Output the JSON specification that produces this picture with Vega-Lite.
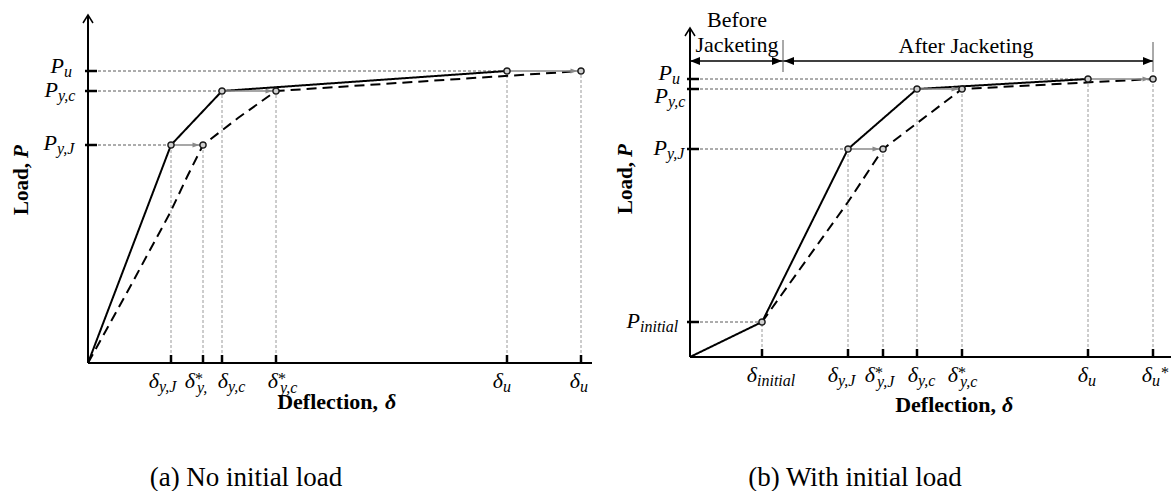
{
  "$schema": "https://vega.github.io/schema/vega-lite/v6.json",
  "background": "white",
  "padding": {"left": 11, "top": 9, "right": 0, "bottom": 0},
  "spacing": 98,
  "bounds": "flush",
  "config": {"view": {"stroke": null}, "font": "Liberation Serif", "text": {"font": "Liberation Serif"}, "axis": {"disable": true}},
  "datasets": {
    "a_curves": [
      {"series": "solid", "i": 0, "x": 0, "y": 0},
      {"series": "solid", "i": 1, "x": 83, "y": 218},
      {"series": "solid", "i": 2, "x": 134, "y": 272},
      {"series": "solid", "i": 3, "x": 419, "y": 292},
      {"series": "dashed", "i": 0, "x": 0, "y": 0},
      {"series": "dashed", "i": 1, "x": 42, "y": 76},
      {"series": "dashed", "i": 2, "x": 82, "y": 150},
      {"series": "dashed", "i": 3, "x": 99, "y": 186},
      {"series": "dashed", "i": 4, "x": 115, "y": 218},
      {"series": "dashed", "i": 5, "x": 150, "y": 245},
      {"series": "dashed", "i": 6, "x": 188, "y": 272},
      {"series": "dashed", "i": 7, "x": 493, "y": 292}
    ],
    "a_points": [
      {"x": 83, "y": 218}, {"x": 134, "y": 272}, {"x": 419, "y": 292},
      {"x": 115, "y": 218}, {"x": 188, "y": 272}, {"x": 493, "y": 292}
    ],
    "a_arrows": [
      {"x": 83, "x2": 115, "y": 218},
      {"x": 134, "x2": 188, "y": 272},
      {"x": 419, "x2": 493, "y": 292}
    ],
    "a_guides": [
      {"dir": "h", "x": 0, "y": 292, "x2": 419, "y2": 292},
      {"dir": "h", "x": 0, "y": 272, "x2": 134, "y2": 272},
      {"dir": "h", "x": 0, "y": 218, "x2": 83, "y2": 218},
      {"dir": "v", "x": 83, "y": 0, "x2": 83, "y2": 218},
      {"dir": "v", "x": 115, "y": 0, "x2": 115, "y2": 218},
      {"dir": "v", "x": 134, "y": 0, "x2": 134, "y2": 272},
      {"dir": "v", "x": 188, "y": 0, "x2": 188, "y2": 272},
      {"dir": "v", "x": 419, "y": 0, "x2": 419, "y2": 292},
      {"dir": "v", "x": 493, "y": 0, "x2": 493, "y2": 292}
    ],
    "a_yticks": [{"y": 292}, {"y": 272}, {"y": 218}],
    "a_xticks": [{"x": 83}, {"x": 115}, {"x": 134}, {"x": 188}, {"x": 419}, {"x": 493}],
    "a_labels": [
      {"x": -24, "y": 290, "sym": "P", "sub": "u", "sup": "", "post": ""},
      {"x": -30, "y": 266, "sym": "P", "sub": "y,c", "sup": "", "post": ""},
      {"x": -31, "y": 213, "sym": "P", "sub": "y,J", "sup": "", "post": ""},
      {"x": 71, "y": -25, "sym": "δ", "sub": "y,J", "sup": "", "post": ""},
      {"x": 107, "y": -25, "sym": "δ", "sub": "y,", "sup": "*", "post": ""},
      {"x": 140, "y": -25, "sym": "δ", "sub": "y,c", "sup": "", "post": ""},
      {"x": 190, "y": -25, "sym": "δ", "sub": "y,c", "sup": "*", "post": ""},
      {"x": 415, "y": -25, "sym": "δ", "sub": "u", "sup": "", "post": ""},
      {"x": 492, "y": -25, "sym": "δ", "sub": "u", "sup": "", "post": ""}
    ],
    "b_curves": [
      {"series": "solid", "i": 0, "x": 0, "y": 0},
      {"series": "solid", "i": 1, "x": 72, "y": 35},
      {"series": "solid", "i": 2, "x": 158, "y": 208},
      {"series": "solid", "i": 3, "x": 227, "y": 268},
      {"series": "solid", "i": 4, "x": 398, "y": 278},
      {"series": "dashed", "i": 0, "x": 72, "y": 35},
      {"series": "dashed", "i": 1, "x": 158, "y": 155},
      {"series": "dashed", "i": 2, "x": 193, "y": 208},
      {"series": "dashed", "i": 3, "x": 272, "y": 268},
      {"series": "dashed", "i": 4, "x": 463, "y": 278}
    ],
    "b_points": [
      {"x": 72, "y": 35}, {"x": 158, "y": 208}, {"x": 227, "y": 268}, {"x": 398, "y": 278},
      {"x": 193, "y": 208}, {"x": 272, "y": 268}, {"x": 463, "y": 278}
    ],
    "b_arrows": [
      {"x": 158, "x2": 193, "y": 208},
      {"x": 227, "x2": 272, "y": 268},
      {"x": 398, "x2": 463, "y": 278}
    ],
    "b_guides": [
      {"dir": "h", "x": 0, "y": 278, "x2": 398, "y2": 278},
      {"dir": "h", "x": 0, "y": 268, "x2": 227, "y2": 268},
      {"dir": "h", "x": 0, "y": 208, "x2": 158, "y2": 208},
      {"dir": "h", "x": 0, "y": 35, "x2": 72, "y2": 35},
      {"dir": "v", "x": 72, "y": 0, "x2": 72, "y2": 35},
      {"dir": "v", "x": 158, "y": 0, "x2": 158, "y2": 208},
      {"dir": "v", "x": 193, "y": 0, "x2": 193, "y2": 208},
      {"dir": "v", "x": 227, "y": 0, "x2": 227, "y2": 268},
      {"dir": "v", "x": 272, "y": 0, "x2": 272, "y2": 268},
      {"dir": "v", "x": 398, "y": 0, "x2": 398, "y2": 278},
      {"dir": "v", "x": 463, "y": 0, "x2": 463, "y2": 278}
    ],
    "b_yticks": [{"y": 278}, {"y": 268}, {"y": 208}, {"y": 35}],
    "b_xticks": [{"x": 72}, {"x": 158}, {"x": 193}, {"x": 227}, {"x": 272}, {"x": 398}, {"x": 463}],
    "b_labels": [
      {"x": -18, "y": 277, "sym": "P", "sub": "u", "sup": "", "post": ""},
      {"x": -22, "y": 254, "sym": "P", "sub": "y,c", "sup": "", "post": ""},
      {"x": -23, "y": 202, "sym": "P", "sub": "y,J", "sup": "", "post": ""},
      {"x": -50, "y": 29, "sym": "P", "sub": "initial", "sup": "", "post": ""},
      {"x": 67, "y": -25, "sym": "δ", "sub": "initial", "sup": "", "post": ""},
      {"x": 148, "y": -25, "sym": "δ", "sub": "y,J", "sup": "", "post": ""},
      {"x": 185, "y": -25, "sym": "δ", "sub": "y,J", "sup": "*", "post": ""},
      {"x": 228, "y": -25, "sym": "δ", "sub": "y,c", "sup": "", "post": ""},
      {"x": 268, "y": -25, "sym": "δ", "sub": "y,c", "sup": "*", "post": ""},
      {"x": 398, "y": -25, "sym": "δ", "sub": "u", "sup": "", "post": ""},
      {"x": 462, "y": -25, "sym": "δ", "sub": "u", "sup": "", "post": "*"}
    ],
    "b_dimheads": [
      {"x": 0, "dir": "l"}, {"x": 92, "dir": "r"}, {"x": 94, "dir": "l"}, {"x": 463, "dir": "r"}
    ]
  },
  "hconcat": [
    {
      "width": 504,
      "height": 348,
      "layer": [
        {
          "data": {"name": "a_guides"},
          "mark": {"type": "rule", "strokeWidth": 1, "strokeDash": [3, 2]},
          "encoding": {
            "x": {"field": "x", "type": "quantitative", "scale": {"domain": [0, 504], "nice": false, "zero": false}},
            "y": {"field": "y", "type": "quantitative", "scale": {"domain": [0, 348], "nice": false, "zero": false}},
            "x2": {"field": "x2"}, "y2": {"field": "y2"},
            "color": {"field": "dir", "type": "nominal", "scale": {"domain": ["h", "v"], "range": ["#5a5a5a", "#9a9a9a"]}, "legend": null}
          }
        },
        {
          "data": {"name": "a_curves"},
          "mark": {"type": "line", "strokeWidth": 2, "color": "black"},
          "encoding": {
            "x": {"field": "x", "type": "quantitative", "scale": {"domain": [0, 504], "nice": false, "zero": false}},
            "y": {"field": "y", "type": "quantitative", "scale": {"domain": [0, 348], "nice": false, "zero": false}},
            "detail": {"field": "series"},
            "order": {"field": "i", "type": "quantitative"},
            "strokeDash": {"field": "series", "type": "nominal", "scale": {"domain": ["solid", "dashed"], "range": [[1, 0], [10, 6]]}, "legend": null}
          }
        },
        {
          "data": {"name": "a_arrows"},
          "mark": {"type": "rule", "color": "#8a8a8a", "strokeWidth": 1.5},
          "encoding": {"x": {"field": "x", "type": "quantitative"}, "x2": {"field": "x2"}, "y": {"field": "y", "type": "quantitative"}}
        },
        {
          "data": {"name": "a_arrows"},
          "mark": {"type": "point", "shape": "M-1.75,0L-5.25,-1.25L-5.25,1.25Z", "size": 16, "filled": true, "color": "#8a8a8a", "opacity": 1},
          "encoding": {"x": {"field": "x2", "type": "quantitative"}, "y": {"field": "y", "type": "quantitative"}}
        },
        {
          "data": {"values": [{}]},
          "mark": {"type": "rule", "color": "black", "strokeWidth": 2},
          "encoding": {"x": {"datum": 0, "type": "quantitative"}, "x2": {"datum": 504}, "y": {"datum": 0, "type": "quantitative"}}
        },
        {
          "data": {"values": [{}]},
          "mark": {"type": "rule", "color": "black", "strokeWidth": 2},
          "encoding": {"x": {"datum": 0, "type": "quantitative"}, "y": {"datum": 0, "type": "quantitative"}, "y2": {"datum": 348}}
        },
        {
          "data": {"values": [{}]},
          "mark": {"type": "point", "shape": "M-1,1.6L0,0L1,1.6", "size": 100, "filled": false, "stroke": "black", "strokeWidth": 1.5, "opacity": 1},
          "encoding": {"x": {"datum": 0, "type": "quantitative"}, "y": {"datum": 348, "type": "quantitative"}}
        },
        {
          "data": {"name": "a_yticks"},
          "mark": {"type": "rule", "color": "black", "strokeWidth": 2.5},
          "encoding": {"x": {"datum": -3, "type": "quantitative"}, "x2": {"datum": 9}, "y": {"field": "y", "type": "quantitative"}}
        },
        {
          "data": {"name": "a_xticks"},
          "mark": {"type": "rule", "color": "black", "strokeWidth": 2.5},
          "encoding": {"x": {"field": "x", "type": "quantitative"}, "y": {"datum": -1, "type": "quantitative"}, "y2": {"datum": 8}}
        },
        {
          "data": {"name": "a_points"},
          "mark": {"type": "point", "shape": "circle", "size": 38, "filled": true, "fill": "#cfcfcf", "stroke": "#1a1a1a", "strokeWidth": 1.5, "opacity": 1},
          "encoding": {"x": {"field": "x", "type": "quantitative"}, "y": {"field": "y", "type": "quantitative"}}
        },
        {
          "data": {"name": "a_labels"},
          "mark": {"type": "text", "font": "Liberation Serif", "align": "right", "baseline": "alphabetic", "fontStyle": "italic", "fontSize": 22, "color": "black"},
          "encoding": {"x": {"field": "x", "type": "quantitative"}, "y": {"field": "y", "type": "quantitative"}, "text": {"field": "sym"}}
        },
        {
          "data": {"name": "a_labels"},
          "transform": [{"filter": "datum.sup === ''"}],
          "mark": {"type": "text", "font": "Liberation Serif", "align": "left", "baseline": "alphabetic", "fontStyle": "italic", "fontSize": 16, "dy": 4, "color": "black"},
          "encoding": {"x": {"field": "x", "type": "quantitative"}, "y": {"field": "y", "type": "quantitative"}, "text": {"field": "sub"}}
        },
        {
          "data": {"name": "a_labels"},
          "transform": [{"filter": "datum.sup !== ''"}],
          "mark": {"type": "text", "font": "Liberation Serif", "align": "left", "baseline": "alphabetic", "fontStyle": "italic", "fontSize": 16, "dx": 2, "dy": 5, "color": "black"},
          "encoding": {"x": {"field": "x", "type": "quantitative"}, "y": {"field": "y", "type": "quantitative"}, "text": {"field": "sub"}}
        },
        {
          "data": {"name": "a_labels"},
          "transform": [{"filter": "datum.sup !== ''"}],
          "mark": {"type": "text", "font": "Liberation Serif", "align": "left", "baseline": "alphabetic", "fontSize": 16, "dy": -4, "color": "black"},
          "encoding": {"x": {"field": "x", "type": "quantitative"}, "y": {"field": "y", "type": "quantitative"}, "text": {"field": "sup"}}
        },
        {
          "data": {"values": [{}]},
          "mark": {"type": "text", "font": "Liberation Serif", "align": "right", "baseline": "alphabetic", "angle": 270, "fontWeight": "bold", "fontSize": 21, "color": "black"},
          "encoding": {"x": {"datum": -60, "type": "quantitative"}, "y": {"datum": 200, "type": "quantitative"}, "text": {"value": "Load,"}}
        },
        {
          "data": {"values": [{}]},
          "mark": {"type": "text", "font": "Liberation Serif", "align": "left", "baseline": "alphabetic", "angle": 270, "fontWeight": "bold", "fontStyle": "italic", "fontSize": 21, "color": "black"},
          "encoding": {"x": {"datum": -60, "type": "quantitative"}, "y": {"datum": 205, "type": "quantitative"}, "text": {"value": "P"}}
        },
        {
          "data": {"values": [{}]},
          "mark": {"type": "text", "font": "Liberation Serif", "align": "right", "baseline": "alphabetic", "fontWeight": "bold", "fontSize": 22, "color": "black"},
          "encoding": {"x": {"datum": 290, "type": "quantitative"}, "y": {"datum": -46, "type": "quantitative"}, "text": {"value": "Deflection,"}}
        },
        {
          "data": {"values": [{}]},
          "mark": {"type": "text", "font": "Liberation Serif", "align": "left", "baseline": "alphabetic", "fontWeight": "bold", "fontStyle": "italic", "fontSize": 22, "color": "black"},
          "encoding": {"x": {"datum": 297, "type": "quantitative"}, "y": {"datum": -46, "type": "quantitative"}, "text": {"value": "δ"}}
        },
        {
          "data": {"values": [{}]},
          "mark": {"type": "text", "font": "Liberation Serif", "align": "center", "baseline": "alphabetic", "fontSize": 27, "color": "black"},
          "encoding": {"x": {"datum": 158, "type": "quantitative"}, "y": {"datum": -123, "type": "quantitative"}, "text": {"value": "(a) No initial load"}}
        }
      ]
    },
    {
      "width": 481,
      "height": 342,
      "layer": [
        {
          "data": {"name": "b_guides"},
          "mark": {"type": "rule", "strokeWidth": 1, "strokeDash": [3, 2]},
          "encoding": {
            "x": {"field": "x", "type": "quantitative", "scale": {"domain": [0, 481], "nice": false, "zero": false}},
            "y": {"field": "y", "type": "quantitative", "scale": {"domain": [0, 342], "nice": false, "zero": false}},
            "x2": {"field": "x2"}, "y2": {"field": "y2"},
            "color": {"field": "dir", "type": "nominal", "scale": {"domain": ["h", "v"], "range": ["#5a5a5a", "#9a9a9a"]}, "legend": null}
          }
        },
        {
          "data": {"name": "b_curves"},
          "mark": {"type": "line", "strokeWidth": 2, "color": "black"},
          "encoding": {
            "x": {"field": "x", "type": "quantitative", "scale": {"domain": [0, 481], "nice": false, "zero": false}},
            "y": {"field": "y", "type": "quantitative", "scale": {"domain": [0, 342], "nice": false, "zero": false}},
            "detail": {"field": "series"},
            "order": {"field": "i", "type": "quantitative"},
            "strokeDash": {"field": "series", "type": "nominal", "scale": {"domain": ["solid", "dashed"], "range": [[1, 0], [10, 6]]}, "legend": null}
          }
        },
        {
          "data": {"name": "b_arrows"},
          "mark": {"type": "rule", "color": "#8a8a8a", "strokeWidth": 1.5},
          "encoding": {"x": {"field": "x", "type": "quantitative"}, "x2": {"field": "x2"}, "y": {"field": "y", "type": "quantitative"}}
        },
        {
          "data": {"name": "b_arrows"},
          "mark": {"type": "point", "shape": "M-1.75,0L-5.25,-1.25L-5.25,1.25Z", "size": 16, "filled": true, "color": "#8a8a8a", "opacity": 1},
          "encoding": {"x": {"field": "x2", "type": "quantitative"}, "y": {"field": "y", "type": "quantitative"}}
        },
        {
          "data": {"values": [{}]},
          "mark": {"type": "rule", "color": "black", "strokeWidth": 2},
          "encoding": {"x": {"datum": 0, "type": "quantitative"}, "x2": {"datum": 481}, "y": {"datum": 0, "type": "quantitative"}}
        },
        {
          "data": {"values": [{}]},
          "mark": {"type": "rule", "color": "black", "strokeWidth": 2},
          "encoding": {"x": {"datum": 0, "type": "quantitative"}, "y": {"datum": 0, "type": "quantitative"}, "y2": {"datum": 329}}
        },
        {
          "data": {"values": [{}]},
          "mark": {"type": "point", "shape": "M-1,1.6L0,0L1,1.6", "size": 100, "filled": false, "stroke": "black", "strokeWidth": 1.5, "opacity": 1},
          "encoding": {"x": {"datum": 0, "type": "quantitative"}, "y": {"datum": 329, "type": "quantitative"}}
        },
        {
          "data": {"name": "b_yticks"},
          "mark": {"type": "rule", "color": "black", "strokeWidth": 2.5},
          "encoding": {"x": {"datum": -3, "type": "quantitative"}, "x2": {"datum": 9}, "y": {"field": "y", "type": "quantitative"}}
        },
        {
          "data": {"name": "b_xticks"},
          "mark": {"type": "rule", "color": "black", "strokeWidth": 2.5},
          "encoding": {"x": {"field": "x", "type": "quantitative"}, "y": {"datum": -1, "type": "quantitative"}, "y2": {"datum": 8}}
        },
        {
          "data": {"values": [{}]},
          "mark": {"type": "rule", "color": "black", "strokeWidth": 1.5},
          "encoding": {"x": {"datum": 0, "type": "quantitative"}, "x2": {"datum": 463}, "y": {"datum": 296, "type": "quantitative"}}
        },
        {
          "data": {"values": [{}]},
          "mark": {"type": "rule", "color": "#555555", "strokeWidth": 1},
          "encoding": {"x": {"datum": 93, "type": "quantitative"}, "y": {"datum": 285, "type": "quantitative"}, "y2": {"datum": 317}}
        },
        {
          "data": {"values": [{}]},
          "mark": {"type": "rule", "color": "#555555", "strokeWidth": 1},
          "encoding": {"x": {"datum": 463, "type": "quantitative"}, "y": {"datum": 285, "type": "quantitative"}, "y2": {"datum": 315}}
        },
        {
          "data": {"name": "b_dimheads"},
          "mark": {"type": "point", "size": 100, "filled": true, "color": "black", "opacity": 1},
          "encoding": {
            "x": {"field": "x", "type": "quantitative"},
            "y": {"datum": 296, "type": "quantitative"},
            "shape": {"field": "dir", "type": "nominal", "scale": {"domain": ["l", "r"], "range": ["M0,0L2,-0.8L2,0.8Z", "M0,0L-2,-0.8L-2,0.8Z"]}, "legend": null}
          }
        },
        {
          "data": {"name": "b_points"},
          "mark": {"type": "point", "shape": "circle", "size": 38, "filled": true, "fill": "#cfcfcf", "stroke": "#1a1a1a", "strokeWidth": 1.5, "opacity": 1},
          "encoding": {"x": {"field": "x", "type": "quantitative"}, "y": {"field": "y", "type": "quantitative"}}
        },
        {
          "data": {"name": "b_labels"},
          "mark": {"type": "text", "font": "Liberation Serif", "align": "right", "baseline": "alphabetic", "fontStyle": "italic", "fontSize": 22, "color": "black"},
          "encoding": {"x": {"field": "x", "type": "quantitative"}, "y": {"field": "y", "type": "quantitative"}, "text": {"field": "sym"}}
        },
        {
          "data": {"name": "b_labels"},
          "transform": [{"filter": "datum.sup === ''"}],
          "mark": {"type": "text", "font": "Liberation Serif", "align": "left", "baseline": "alphabetic", "fontStyle": "italic", "fontSize": 16, "dy": 4, "color": "black"},
          "encoding": {"x": {"field": "x", "type": "quantitative"}, "y": {"field": "y", "type": "quantitative"}, "text": {"field": "sub"}}
        },
        {
          "data": {"name": "b_labels"},
          "transform": [{"filter": "datum.sup !== ''"}],
          "mark": {"type": "text", "font": "Liberation Serif", "align": "left", "baseline": "alphabetic", "fontStyle": "italic", "fontSize": 16, "dx": 2, "dy": 5, "color": "black"},
          "encoding": {"x": {"field": "x", "type": "quantitative"}, "y": {"field": "y", "type": "quantitative"}, "text": {"field": "sub"}}
        },
        {
          "data": {"name": "b_labels"},
          "transform": [{"filter": "datum.sup !== ''"}],
          "mark": {"type": "text", "font": "Liberation Serif", "align": "left", "baseline": "alphabetic", "fontSize": 16, "dy": -4, "color": "black"},
          "encoding": {"x": {"field": "x", "type": "quantitative"}, "y": {"field": "y", "type": "quantitative"}, "text": {"field": "sup"}}
        },
        {
          "data": {"name": "b_labels"},
          "transform": [{"filter": "datum.post !== ''"}],
          "mark": {"type": "text", "font": "Liberation Serif", "align": "left", "baseline": "alphabetic", "fontSize": 16, "dx": 9, "dy": -4, "color": "black"},
          "encoding": {"x": {"field": "x", "type": "quantitative"}, "y": {"field": "y", "type": "quantitative"}, "text": {"field": "post"}}
        },
        {
          "data": {"values": [{}]},
          "mark": {"type": "text", "font": "Liberation Serif", "align": "center", "baseline": "alphabetic", "fontSize": 22, "color": "black"},
          "encoding": {"x": {"datum": 47, "type": "quantitative"}, "y": {"datum": 330, "type": "quantitative"}, "text": {"value": "Before"}}
        },
        {
          "data": {"values": [{}]},
          "mark": {"type": "text", "font": "Liberation Serif", "align": "center", "baseline": "alphabetic", "fontSize": 22, "color": "black"},
          "encoding": {"x": {"datum": 47, "type": "quantitative"}, "y": {"datum": 305, "type": "quantitative"}, "text": {"value": "Jacketing"}}
        },
        {
          "data": {"values": [{}]},
          "mark": {"type": "text", "font": "Liberation Serif", "align": "center", "baseline": "alphabetic", "fontSize": 22, "color": "black"},
          "encoding": {"x": {"datum": 276, "type": "quantitative"}, "y": {"datum": 304, "type": "quantitative"}, "text": {"value": "After Jacketing"}}
        },
        {
          "data": {"values": [{}]},
          "mark": {"type": "text", "font": "Liberation Serif", "align": "right", "baseline": "alphabetic", "angle": 270, "fontWeight": "bold", "fontSize": 21, "color": "black"},
          "encoding": {"x": {"datum": -58, "type": "quantitative"}, "y": {"datum": 195, "type": "quantitative"}, "text": {"value": "Load,"}}
        },
        {
          "data": {"values": [{}]},
          "mark": {"type": "text", "font": "Liberation Serif", "align": "left", "baseline": "alphabetic", "angle": 270, "fontWeight": "bold", "fontStyle": "italic", "fontSize": 21, "color": "black"},
          "encoding": {"x": {"datum": -58, "type": "quantitative"}, "y": {"datum": 200, "type": "quantitative"}, "text": {"value": "P"}}
        },
        {
          "data": {"values": [{}]},
          "mark": {"type": "text", "font": "Liberation Serif", "align": "right", "baseline": "alphabetic", "fontWeight": "bold", "fontSize": 22, "color": "black"},
          "encoding": {"x": {"datum": 306, "type": "quantitative"}, "y": {"datum": -55, "type": "quantitative"}, "text": {"value": "Deflection,"}}
        },
        {
          "data": {"values": [{}]},
          "mark": {"type": "text", "font": "Liberation Serif", "align": "left", "baseline": "alphabetic", "fontWeight": "bold", "fontStyle": "italic", "fontSize": 22, "color": "black"},
          "encoding": {"x": {"datum": 312, "type": "quantitative"}, "y": {"datum": -55, "type": "quantitative"}, "text": {"value": "δ"}}
        },
        {
          "data": {"values": [{}]},
          "mark": {"type": "text", "font": "Liberation Serif", "align": "center", "baseline": "alphabetic", "fontSize": 27, "color": "black"},
          "encoding": {"x": {"datum": 165, "type": "quantitative"}, "y": {"datum": -129, "type": "quantitative"}, "text": {"value": "(b) With initial load"}}
        }
      ]
    }
  ]
}
